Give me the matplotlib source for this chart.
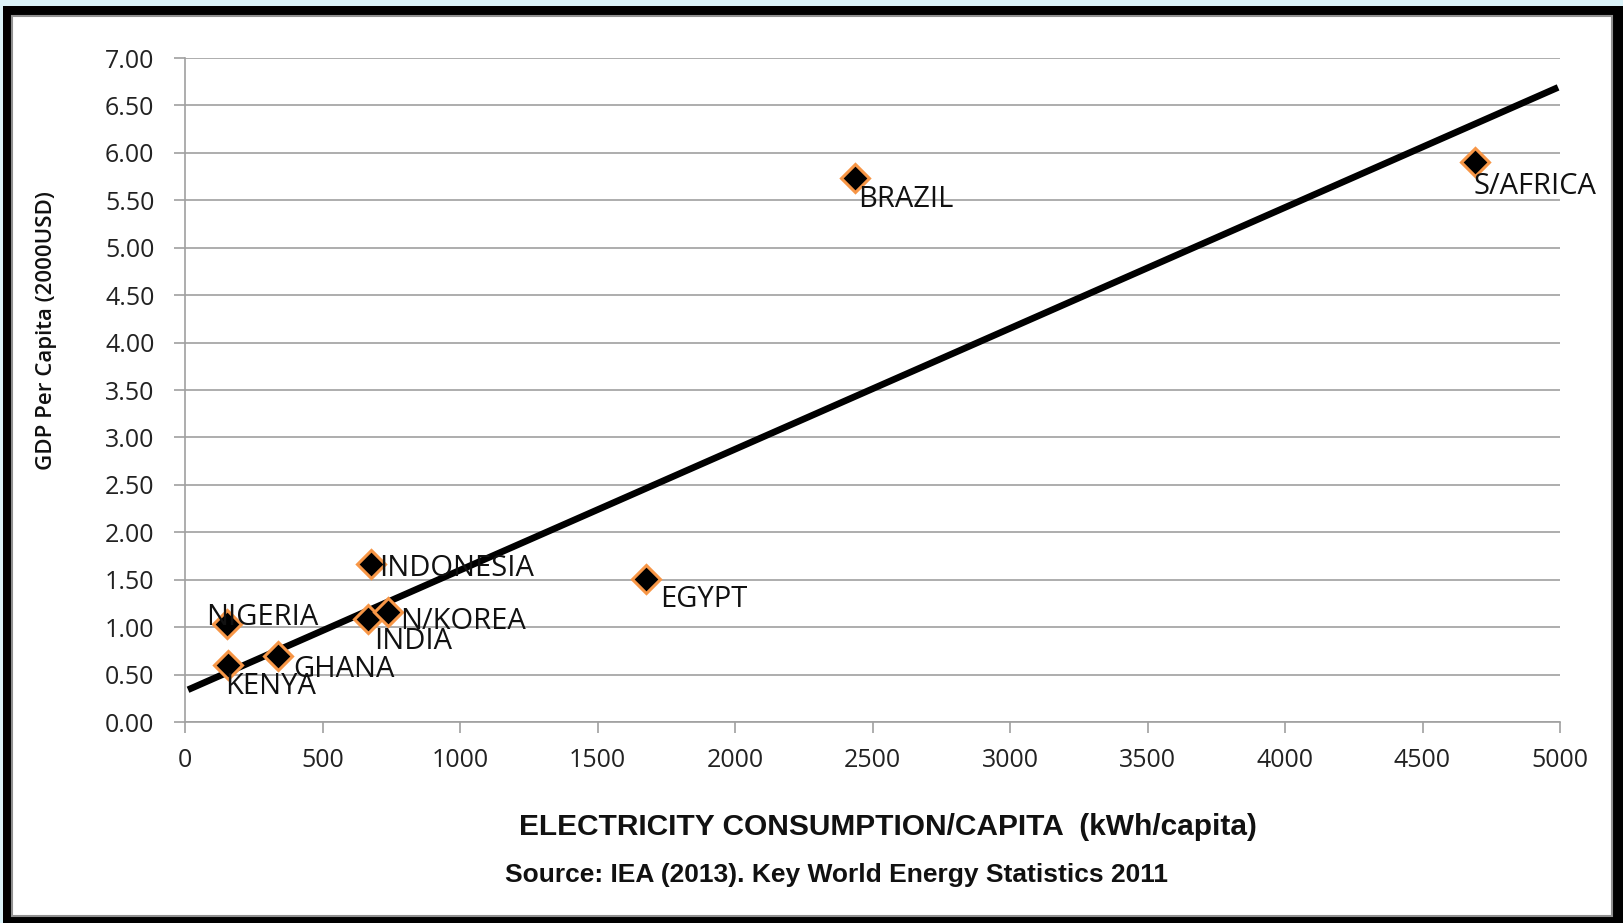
import numpy as np
import matplotlib
matplotlib.use('Agg')
import matplotlib.pyplot as plt
from matplotlib.patches import Rectangle

countries = ['NIGERIA', 'KENYA', 'GHANA', 'INDIA', 'N/KOREA', 'INDONESIA', 'EGYPT', 'BRAZIL', 'S/AFRICA']
elec = [152, 156, 338, 667, 739, 675, 1677, 2437, 4691]
gdp = [1.03, 0.60, 0.70, 1.09, 1.16, 1.67, 1.51, 5.735, 5.90]
trend_x = [11, 4993]
trend_y = [0.34, 6.69]
xticks = np.arange(0, 5001, 500)
yticks = np.arange(0, 7.01, 0.5)

# label offsets in pixels (dx right, dy down) from the marker
offsets = [(-21, -7), (-3, 21), (15, 14), (6, 23), (12, 10), (9, 5), (14, 21), (3, 22), (-2, 24)]

W, H = 1623, 923
fig = plt.figure(figsize=(W / 100, H / 100), dpi=100, facecolor='#DAF2F8')

# black frame + white inside
fig.patches.append(Rectangle((3 / W, 0), 1, 1 - 6 / H, transform=fig.transFigure,
                             facecolor='black', edgecolor='none', zorder=-3))
fig.patches.append(Rectangle((12 / W, 7 / H), (1612 - 12) / W, (915 - 15) / H, transform=fig.transFigure,
                             facecolor='white', edgecolor='#909090', lw=1.5, zorder=-2))

ax = fig.add_axes([185 / W, 1 - 722 / H, (1560 - 185) / W, (722 - 58) / H])
ax.set_facecolor('none')

ax.plot(trend_x, trend_y, color='black', lw=4.8, solid_capstyle='butt', zorder=3)
ax.plot(elec, gdp, 'D', ms=14, mfc='black', mec='#F79646', mew=2.2, zorder=4)

for c, x, y, (dx, dy) in zip(countries, elec, gdp, offsets):
    ax.annotate(c, (x, y), xytext=(dx, -dy), textcoords='offset pixels',
                ha='left', va='center', fontsize=21, family='Open Sans',
                color='#111111', zorder=5)

ax.set_xlim(0, 5000)
ax.set_ylim(0, 7)
ax.set_xticks(xticks)
ax.set_yticks(yticks)
ax.set_yticklabels(['%.2f' % v for v in yticks])
ax.grid(axis='y', color='#A0A0A0', lw=1.2)
ax.set_axisbelow(True)
for s in ['top', 'right']:
    ax.spines[s].set_visible(False)
for s in ['left', 'bottom']:
    ax.spines[s].set_color('#A0A0A0')
    ax.spines[s].set_linewidth(1.2)
ax.tick_params(axis='both', colors='#A0A0A0', length=8, width=1.2, labelcolor='#222222',
               labelsize=18)
ax.tick_params(axis='y', pad=14)
ax.tick_params(axis='x', pad=11)
for lab in ax.get_xticklabels() + ax.get_yticklabels():
    lab.set_family('Open Sans')

fig.text(47 / W, 1 - 331 / H, 'GDP Per Capita (2000USD)', rotation=90, ha='center', va='center',
         fontsize=16, family='Open Sans', fontweight='semibold', color='#111111')
fig.text(888 / W, 1 - 827 / H, 'ELECTRICITY CONSUMPTION/CAPITA  (kWh/capita)', ha='center', va='center',
         fontsize=21.5, family='Liberation Sans', fontweight='bold', color='#111111')
fig.text(836 / W, 1 - 875 / H, 'Source: IEA (2013). Key World Energy Statistics 2011', ha='center', va='center',
         fontsize=19, family='Liberation Sans', fontweight='bold', color='#111111')

fig.savefig('out.png', dpi=100, facecolor=fig.get_facecolor())
